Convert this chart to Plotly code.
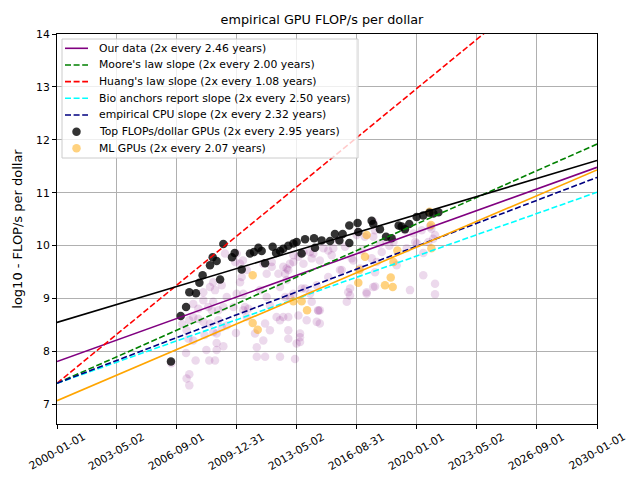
import plotly.graph_objects as go
from datetime import datetime, timedelta

# ---------------- data ----------------
# decimal years / log10 FLOP/s per dollar
all_gpu_years = [
    2006.35, 2006.95, 2007.2, 2007.35, 2007.35, 2007.17, 2007.7, 2008.3, 2008.46, 2008.78,
    2008.87, 2008.87, 2009.24, 2008.87, 2008.68, 2008.2, 2007.57, 2007.3, 2007.2, 2007.35,
    2007.57, 2007.85, 2008.13, 2008.5, 2008.96, 2009.15, 2009.43, 2009.94, 2007.57, 2007.85,
    2008.13, 2008.4, 2008.68, 2008.6, 2008.96, 2009.24, 2008.13, 2008.5, 2008.78, 2008.68,
    2009.15, 2009.43, 2009.8, 2010.35, 2010.63, 2009.98, 2010.35, 2010.17, 2010.26, 2010.54,
    2010.17, 2009.9, 2009.33, 2009.98, 2011.1, 2011.1, 2010.33, 2010.54, 2010.44,
    2011.46, 2011.65, 2011.93, 2012.3, 2012.76, 2013.13, 2013.41, 2013.69, 2014.24, 2014.8,
    2015.26, 2015.63, 2016.0, 2016.37, 2012.67, 2012.76, 2012.39, 2012.67, 2013.13, 2013.59,
    2014.06, 2014.43, 2015.07, 2015.82, 2016.28, 2016.18, 2016.1, 2014.5, 2014.52, 2012.39,
    2012.85, 2013.41, 2014.15, 2014.43, 2012.85, 2013.5, 2013.31, 2011.56, 2012.39, 2013.22,
    2011.46, 2011.83, 2012.2, 2011.28, 2011.65, 2011.83, 2011.56, 2011.0, 2012.85,
    2013.87, 2013.5, 2013.5, 2014.6, 2015.35, 2017.76,
    2011.93, 2012.57, 2012.94, 2012.85, 2013.69, 2014.15, 2014.06, 2013.13, 2013.78, 2012.94,
    2012.57, 2015.07, 2015.72, 2016.46, 2016.28, 2017.67, 2017.2, 2018.46, 2017.94, 2017.57,
    2016.65, 2014.6, 2014.6,
    2016.74, 2017.1, 2017.67, 2017.57, 2018.3, 2018.69, 2019.33, 2019.8, 2020.26, 2020.72,
    2020.0, 2020.63, 2021.0, 2016.93, 2017.48, 2018.04, 2016.83, 2017.67, 2018.87, 2020.35,
    2021.0, 2019.61, 2017.57, 2017.2, 2021.0, 2019.9, 2020.35, 2019.43, 2020.9, 2020.8,
]
all_gpu_vals = [
    7.78, 8.52, 7.49, 7.36, 7.57, 7.97, 7.83, 8.03, 7.83, 7.83,
    8.03, 8.16, 8.10, 8.34, 8.37, 8.31, 8.21, 8.24, 8.40, 8.59,
    8.65, 8.62, 8.56, 8.53, 8.59, 8.46, 8.49, 8.35, 8.90, 8.81,
    8.97, 8.84, 8.94, 8.78, 8.78, 8.84, 9.12, 9.22, 9.16, 9.31,
    9.25, 9.03, 8.84, 8.78, 8.81, 9.09, 9.09, 9.31, 9.41, 9.54,
    9.66, 9.69, 9.85, 9.85, 7.90, 8.08, 9.72, 8.65, 8.84,
    9.66, 9.47, 9.60, 9.47, 9.57, 9.69, 9.79, 9.88, 9.85, 9.95,
    9.82, 10.10, 9.98, 9.76, 9.47, 9.35, 9.22, 9.03, 9.09, 9.19,
    9.09, 9.25, 9.41, 9.54, 9.19, 9.12, 8.94, 8.78, 8.77, 8.59,
    8.65, 8.68, 8.94, 8.56, 8.40, 8.27, 8.15, 7.90, 7.90, 7.86,
    8.21, 8.40, 8.65, 9.16, 9.03, 8.87, 8.53, 8.34, 8.24,
    8.59, 8.34, 8.18, 9.72, 9.95, 9.69,
    9.69, 9.60, 9.66, 9.54, 9.66, 9.76, 9.88, 9.82, 9.19, 9.03,
    8.65, 9.91, 9.54, 9.72, 9.06, 9.23, 9.09, 10.00, 10.04, 10.17,
    10.20, 8.78, 8.53,
    10.26, 10.17, 10.29, 10.45, 10.10, 10.07, 10.29, 10.23, 10.29, 10.36,
    10.04, 10.07, 10.20, 9.91, 9.76, 9.88, 9.57, 9.50, 9.63, 9.44,
    9.28, 9.16, 9.22, 9.12, 9.08, 10.07, 9.86, 9.95, 10.13, 10.32,
]

top_years = [
    2006.33, 2006.87, 2007.17, 2007.35, 2007.72, 2007.91, 2008.09, 2008.5, 2008.65, 2008.87,
    2009.06, 2009.24, 2009.72, 2009.87, 2010.26, 2010.72, 2010.94, 2011.19, 2011.37, 2011.56,
    2011.98, 2012.17, 2012.39, 2012.57, 2012.85, 2013.13, 2013.31, 2013.59, 2013.78, 2014.28,
    2014.33, 2014.70, 2015.17, 2015.44, 2015.69, 2015.87, 2016.24, 2016.24, 2016.70, 2016.74,
    2017.48, 2017.57, 2017.94, 2018.28, 2018.59, 2018.98, 2019.15, 2019.33, 2019.57, 2019.98,
    2020.35, 2020.69, 2020.91, 2021.19,
]
top_vals = [
    7.81, 8.67, 8.84, 9.12, 9.10, 9.30, 9.44, 9.63, 9.78, 9.71,
    9.36, 10.03, 9.78, 9.86, 9.55, 9.85, 9.88, 9.96, 9.90, 9.67,
    9.98, 9.86, 9.90, 9.94, 10.00, 10.04, 10.07, 9.85, 10.12, 10.14,
    9.96, 10.10, 10.09, 10.22, 10.10, 10.22, 10.05, 10.38, 10.43, 10.26,
    10.47, 10.41, 10.31, 10.17, 10.14, 10.38, 10.36, 10.31, 10.41, 10.54,
    10.57, 10.62, 10.61, 10.63,
]

ml_years = [
    2010.87, 2010.87, 2011.15, 2013.13, 2013.59, 2013.89, 2016.74, 2016.80, 2017.11, 2017.20,
    2018.22, 2018.54, 2018.65, 2018.69, 2018.91, 2020.70, 2020.78, 2020.80,
]
ml_vals = [
    9.44, 8.54, 8.41, 8.95, 8.95, 8.78, 9.30, 9.54, 9.79, 10.20,
    9.25, 9.40, 9.22, 9.69, 9.91, 10.64, 10.39, 9.95,
]

# trend lines: value at 2000-01-01 and at 2030-01-01
line_dates = ["2000-01-01", "2030-01-01"]
trend_names = [
    "Our data (2x every 2.46 years)",
    "Moore's law slope (2x every 2.00 years)",
    "Huang's law slope (2x every 1.08 years)",
    "Bio anchors report slope (2x every 2.50 years)",
    "empirical CPU slope (2x every 2.32 years)",
    "Top FLOPs/dollar GPUs fit",
    "ML GPUs fit",
]
trend_start = [7.81, 7.40, 7.40, 7.40, 7.40, 8.55, 7.07]
trend_end = [11.48, 11.92, 15.76, 11.01, 11.29, 11.61, 11.43]
trend_colors = ["#800080", "#008000", "#ff0000", "#00ffff", "#000080", "#000000", "#ffa500"]
DASH = "6px,2.6px"
trend_dash = ["solid", DASH, DASH, DASH, DASH, "solid", "solid"]
trend_in_legend = [True, True, True, True, True, False, False]

scatter_legend_names = [
    "Top FLOPs/dollar GPUs (2x every 2.95 years)",
    "ML GPUs (2x every 2.07 years)",
]
scatter_legend_colors = ["rgba(0,0,0,0.8)", "rgba(255,165,0,0.5)"]

tick_labels = ["2000-01-01", "2003-05-02", "2006-09-01", "2009-12-31", "2013-05-02",
               "2016-08-31", "2020-01-01", "2023-05-02", "2026-09-01", "2030-01-01"]
y_ticks = [7, 8, 9, 10, 11, 12, 13, 14]


def to_date(y):
    yr = int(y)
    return datetime(yr, 1, 1) + timedelta(days=(y - yr) * 365.25)


FS = 10.8
MS = 8.5

fig = go.Figure()

fig.add_trace(go.Scatter(
    x=[to_date(v) for v in all_gpu_years], y=all_gpu_vals, mode="markers",
    marker=dict(color="#800080", size=MS, opacity=0.15, line=dict(width=0)),
    showlegend=False, hoverinfo="skip"))
fig.add_trace(go.Scatter(
    x=[to_date(v) for v in ml_years], y=ml_vals, mode="markers",
    name=scatter_legend_names[1],
    marker=dict(color="#ffa500", size=MS, opacity=0.5, line=dict(width=0)),
    showlegend=False))
fig.add_trace(go.Scatter(
    x=[to_date(v) for v in top_years], y=top_vals, mode="markers",
    name=scatter_legend_names[0],
    marker=dict(color="#000000", size=MS, opacity=0.8, line=dict(width=0)),
    showlegend=False))

for i in range(len(trend_names)):
    fig.add_trace(go.Scatter(
        x=line_dates, y=[trend_start[i], trend_end[i]], mode="lines",
        name=trend_names[i], showlegend=False,
        line=dict(color=trend_colors[i], width=1.6, dash=trend_dash[i])))

# ---- legend box drawn in the matplotlib style (compact rows) ----
PL, PT, PW, PH = 57, 34, 540, 390


def px_x(p):
    return (p - PL) / PW


def px_y(p):
    return (PT + PH - p) / PH


shapes = [dict(type="rect", xref="paper", yref="paper", layer="above",
               x0=px_x(62), x1=px_x(358), y0=px_y(158), y1=px_y(39),
               fillcolor="rgba(255,255,255,0.8)", line=dict(color="#cccccc", width=1))]
annotations = []
legend_entries = []
for i in range(len(trend_names)):
    if trend_in_legend[i]:
        legend_entries.append(("line", trend_names[i], trend_colors[i], trend_dash[i]))
for n, c in zip(scatter_legend_names, scatter_legend_colors):
    legend_entries.append(("marker", n, c, None))

row0, row_h = 48.3, 16.67
for k, (kind, name, color, dash) in enumerate(legend_entries):
    yc = row0 + k * row_h
    if kind == "line":
        shapes.append(dict(type="line", xref="paper", yref="paper", layer="above",
                           x0=px_x(65), x1=px_x(88), y0=px_y(yc), y1=px_y(yc),
                           line=dict(color=color, width=1.6, dash=dash)))
    else:
        shapes.append(dict(type="circle", xref="paper", yref="paper", layer="above",
                           xsizemode="pixel", ysizemode="pixel",
                           xanchor=px_x(76.5), yanchor=px_y(yc),
                           x0=-MS / 2, x1=MS / 2, y0=-MS / 2, y1=MS / 2,
                           fillcolor=color, line=dict(width=0)))
    annotations.append(dict(xref="paper", yref="paper", x=px_x(97), y=px_y(yc),
                            xanchor="left", yanchor="middle", showarrow=False,
                            text=name, font=dict(size=FS, color="#000000")))

# x tick labels: rotated 30 degrees and centred under each tick
for lab in tick_labels:
    annotations.append(dict(xref="x", yref="paper", x=lab, y=0, yshift=-5,
                            xanchor="center", yanchor="top", textangle=-30,
                            showarrow=False, text=lab, borderpad=0,
                            font=dict(size=FS, color="#000000")))

fig.update_layout(
    width=644, height=481,
    margin=dict(l=PL, r=644 - PL - PW, t=PT, b=481 - PT - PH, autoexpand=False),
    paper_bgcolor="white", plot_bgcolor="white",
    font=dict(family="DejaVu Sans", size=FS, color="#000000"),
    title=dict(text="empirical GPU FLOP/s per dollar", x=0.5, xanchor="center",
               yref="container", y=1 - 20 / 481, yanchor="middle", font=dict(size=12.8)),
    showlegend=False,
    shapes=shapes,
    annotations=annotations,
)
fig.update_xaxes(
    type="date", range=["2000-01-01", "2030-01-01"], automargin=False,
    tickmode="array", tickvals=tick_labels, showticklabels=False,
    showgrid=True, gridcolor="#b0b0b0", gridwidth=0.8,
    showline=True, linecolor="black", linewidth=1, mirror=True,
    ticks="outside", ticklen=4, tickcolor="black", zeroline=False,
)
fig.update_yaxes(
    range=[6.63, 14], tickmode="array", tickvals=y_ticks, automargin=False,
    title=dict(text="log10 - FLOP/s per dollar", standoff=10),
    showgrid=True, gridcolor="#b0b0b0", gridwidth=0.8,
    showline=True, linecolor="black", linewidth=1, mirror=True,
    ticks="outside", ticklen=4, tickcolor="black", zeroline=False,
)

fig.write_html("out.html", config={"displayModeBar": False},
               post_script="document.body.style.margin='0px';")
